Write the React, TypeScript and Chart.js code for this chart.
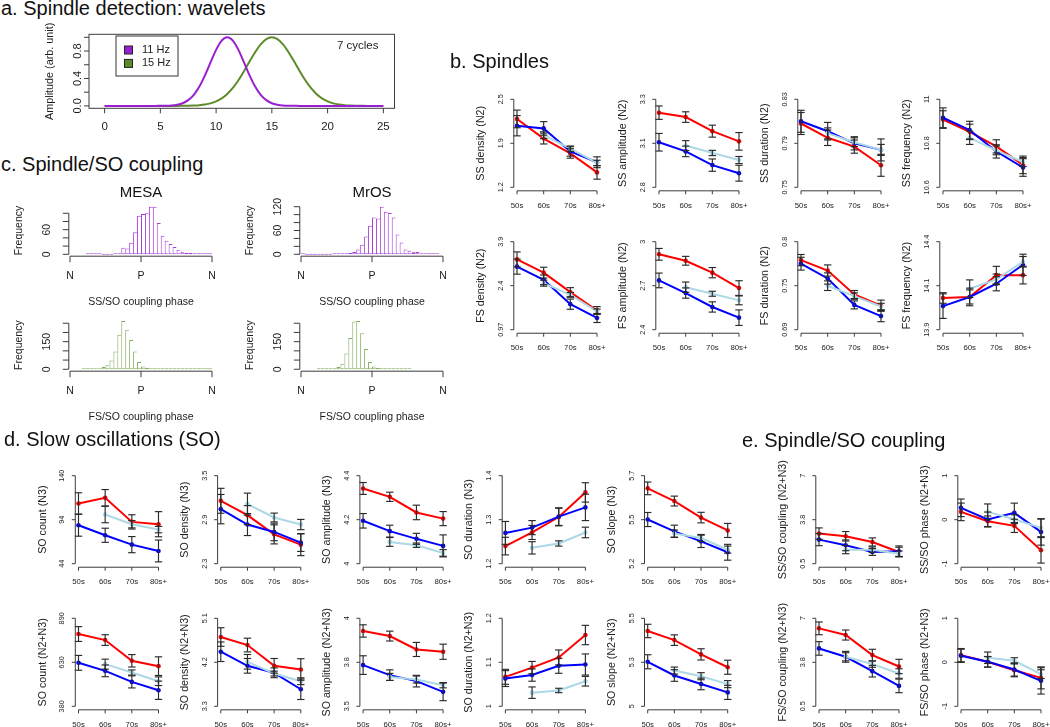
import React, { useEffect, useRef } from 'react';
import { Chart, registerables } from 'chart.js';

Chart.register(...registerables);

// ---------------- data ----------------
const ageGroups = ['50s', '60s', '70s', '80s+'];

// a. wavelets
const waveletLabels = ['11 Hz', '15 Hz'];
const waveFreq = [0, 0.5, 1, 1.5, 2, 2.5, 3, 3.5, 4, 4.5, 5, 5.5, 6, 6.5, 7, 7.5, 8, 8.5, 9, 9.5, 10, 10.5, 11, 11.5, 12, 12.5, 13, 13.5, 14, 14.5, 15, 15.5, 16, 16.5, 17, 17.5, 18, 18.5, 19, 19.5, 20, 20.5, 21, 21.5, 22, 22.5, 23, 23.5, 24, 24.5, 25];
const wave11 = [0, 0, 0, 0, 0, 0, 0, 0, 0, 0, 0.001, 0.002, 0.006, 0.017, 0.039, 0.084, 0.162, 0.282, 0.445, 0.634, 0.817, 0.951, 1, 0.951, 0.817, 0.634, 0.445, 0.282, 0.162, 0.084, 0.039, 0.017, 0.006, 0.002, 0.001, 0, 0, 0, 0, 0, 0, 0, 0, 0, 0, 0, 0, 0, 0, 0, 0];
const wave15 = [0, 0, 0, 0, 0, 0, 0, 0, 0, 0, 0, 0, 0, 0, 0.001, 0.002, 0.005, 0.01, 0.02, 0.037, 0.066, 0.11, 0.175, 0.263, 0.375, 0.506, 0.647, 0.783, 0.897, 0.973, 1, 0.973, 0.897, 0.783, 0.647, 0.506, 0.375, 0.263, 0.175, 0.11, 0.066, 0.037, 0.02, 0.01, 0.005, 0.002, 0.001, 0, 0, 0, 0];
const waveXTicks = [0, 5, 10, 15, 20, 25];
const waveYTicks = [0, 0.2, 0.4, 0.6, 0.8, 1];
const waveYLabels = ['0.0', null, '0.4', null, '0.8', null];

// c. coupling phase histograms (10 degree bins, null = outside data range)
const phaseBins = [-175, -165, -155, -145, -135, -125, -115, -105, -95, -85, -75, -65, -55, -45, -35, -25, -15, -5, 5, 15, 25, 35, 45, 55, 65, 75, 85, 95, 105, 115, 125, 135, 145, 155, 165, 175];
const phaseTicks = [-180, 0, 180];
const phaseLabels = ['N', 'P', 'N'];
const mesaSS = [null, null, null, null, 1, 1, 2, 1, 0, 0, 0, 1, 2, 16, 14, 28, 54, 94, 98, 100, 116, 116, 76, 45, 33, 25, 18, 11, 6, 4, 3, 1, 2, 1, 1, 1];
const mrosSS = [1, 0, 0, 0, 0, 0, 0, 0, 1, 2, 2, 1, 3, 6, 12, 24, 45, 72, 93, 90, 120, 107, 104, 93, 50, 30, 12, 9, 5, 6, 2, 2, 1, 2, 1, null];
const mesaFS = [null, null, null, 1, 1, 2, 3, 6, 12, 22, 48, 96, 187, 262, 214, 159, 96, 40, 15, 8, 4, 2, 2, 1, 1, 1, 1, 1, 1, 2, 1, 1, 1, 1, 1, 1];
const mrosFS = [null, null, null, null, 1, 1, 1, 2, 5, 12, 30, 85, 170, 260, 262, 195, 110, 40, 15, 8, 4, 3, 2, 1, 1, 1, 1, 1, null, null, null, null, null, null, null, null];
const mesaSSTicks = [0, 20, 40, 60, 80, 100];
const mesaSSLabels = ['0', null, null, '60', null, null];
const mrosSSTicks = [0, 20, 40, 60, 80, 100, 120];
const mrosSSLabels = ['0', null, null, '60', null, null, '120'];
const fsHistTicks = [0, 50, 100, 150, 200, 250];
const fsHistLabels = ['0', null, null, '150', null, null];

// b. spindles: [red, blue, light blue] per age group
const ssDensityMean = [[2.21, 1.92, 1.70, 1.42], [2.11, 2.07, 1.73, 1.57], [null, 1.97, 1.77, 1.56]];
const ssDensitySE = [[0.13, 0.08, 0.07, 0.10], [0.15, 0.10, 0.07, 0.08], [null, 0.05, 0.04, 0.04]];
const ssDensityTicks = ['1.2', '1.9', '2.5'];
const ssAmplitudeMean = [[3.224, 3.199, 3.119, 3.061], [3.056, 3.004, 2.926, 2.880], [null, 3.037, 2.995, 2.955]];
const ssAmplitudeSE = [[0.038, 0.030, 0.034, 0.050], [0.050, 0.030, 0.035, 0.045], [null, 0.028, 0.015, 0.020]];
const ssAmplitudeTicks = ['2.8', '3.1', '3.3'];
const ssDurationMean = [[0.808, 0.795, 0.787, 0.770], [0.810, 0.801, 0.790, 0.784], [null, 0.799, 0.791, 0.784]];
const ssDurationSE = [[0.010, 0.007, 0.006, 0.010], [0.010, 0.008, 0.006, 0.010], [null, 0.005, 0.004, 0.005]];
const ssDurationTicks = ['0.75', '0.79', '0.83'];
const ssFrequencyMean = [[10.908, 10.852, 10.786, 10.702], [10.916, 10.860, 10.763, 10.690], [null, 10.825, 10.768, 10.715]];
const ssFrequencySE = [[0.040, 0.035, 0.030, 0.040], [0.045, 0.040, 0.030, 0.040], [null, 0.030, 0.020, 0.020]];
const ssFrequencyTicks = ['10.6', '10.8', '11'];
const fsDensityMean = [[3.31, 2.87, 2.22, 1.61], [3.07, 2.63, 1.82, 1.36], [null, 2.52, 2.13, 1.58]];
const fsDensitySE = [[0.25, 0.18, 0.15, 0.13], [0.25, 0.16, 0.17, 0.15], [null, 0.10, 0.08, 0.08]];
const fsDensityTicks = ['0.97', '2.4', '3.9'];
const fsAmplitudeMean = [[2.914, 2.870, 2.789, 2.684], [2.736, 2.650, 2.555, 2.482], [null, 2.690, 2.645, 2.600]];
const fsAmplitudeSE = [[0.040, 0.030, 0.035, 0.050], [0.050, 0.035, 0.035, 0.053], [null, 0.035, 0.017, 0.030]];
const fsAmplitudeTicks = ['2.4', '2.7', '3'];
const fsDurationMean = [[0.777, 0.764, 0.734, 0.720], [0.7725, 0.754, 0.721, 0.707], [null, 0.745, 0.732, 0.719]];
const fsDurationSE = [[0.007, 0.007, 0.005, 0.007], [0.008, 0.007, 0.005, 0.007], [null, 0.006, 0.004, 0.004]];
const fsDurationTicks = ['0.69', '0.75', '0.8'];
const fsFrequencyMean = [[14.080, 14.086, 14.210, 14.210], [14.034, 14.086, 14.161, 14.269], [null, 14.133, 14.186, 14.286]];
const fsFrequencySE = [[0.030, 0.050, 0.050, 0.050], [0.070, 0.040, 0.040, 0.060], [null, 0.050, 0.030, 0.030]];
const fsFrequencyTicks = ['13.9', '14.1', '14.4'];

// d. slow oscillations
const soCountN3Mean = [[109.7, 115.9, 89.6, 87.1], [86.0, 75.0, 64.8, 57.9], [null, 97.7, 87.1, 81.2]];
const soCountN3SE = [[11.7, 9.0, 7.8, 13.7], [12.0, 7.7, 8.8, 11.9], [null, 9.0, 4.0, 3.5]];
const soCountN3Ticks = ['44', '94', '140'];
const soDensityN3Mean = [[3.158, 2.962, 2.700, 2.560], [3.044, 2.834, 2.733, 2.587], [null, 3.112, 2.930, 2.834]];
const soDensityN3SE = [[0.17, 0.13, 0.13, 0.15], [0.20, 0.15, 0.12, 0.12], [null, 0.15, 0.06, 0.07]];
const soDensityN3Ticks = ['2.3', '2.9', '3.5'];
const soAmplitudeN3Mean = [[4.342, 4.304, 4.233, 4.205], [4.195, 4.148, 4.113, 4.081], [null, 4.099, 4.084, 4.049]];
const soAmplitudeN3SE = [[0.027, 0.021, 0.033, 0.032], [0.033, 0.027, 0.025, 0.050], [null, 0.020, 0.010, 0.015]];
const soAmplitudeN3Ticks = ['4', '4.2', '4.4'];
const soDurationN3Mean = [[1.240, 1.271, 1.306, 1.362], [1.270, 1.282, 1.307, 1.328], [null, 1.236, 1.246, 1.271]];
const soDurationN3SE = [[0.020, 0.016, 0.020, 0.022], [0.026, 0.016, 0.020, 0.030], [null, 0.014, 0.006, 0.012]];
const soDurationN3Ticks = ['1.2', '1.3', '1.4'];
const soSlopeN3Mean = [[5.628, 5.556, 5.462, 5.389], [5.451, 5.384, 5.327, 5.265], [null, 5.371, 5.346, 5.280]];
const soSlopeN3SE = [[0.036, 0.028, 0.030, 0.040], [0.040, 0.035, 0.035, 0.045], [null, 0.020, 0.020, 0.020]];
const soSlopeN3Ticks = ['5.2', '5.5', '5.7'];
const soCountN23Mean = [[798.8, 763.9, 643.7, 612.7], [632.0, 585.5, 521.5, 473.0], [null, 624.3, 575.8, 525.4]];
const soCountN23SE = [[43, 31, 36, 54], [43, 34, 35, 53], [null, 29, 15, 25]];
const soCountN23Ticks = ['380', '630', '890'];
const soDensityN23Mean = [[4.717, 4.553, 4.128, 4.053], [4.416, 4.128, 3.985, 3.649], [null, 4.210, 3.970, 3.813]];
const soDensityN23SE = [[0.19, 0.14, 0.15, 0.22], [0.20, 0.15, 0.10, 0.21], [null, 0.15, 0.05, 0.07]];
const soDensityN23Ticks = ['3.3', '4.2', '5.1'];
const soAmplitudeN23Mean = [[3.928, 3.899, 3.823, 3.810], [3.734, 3.677, 3.643, 3.582], [null, 3.667, 3.652, 3.620]];
const soAmplitudeN23SE = [[0.035, 0.028, 0.040, 0.043], [0.053, 0.030, 0.033, 0.050], [null, 0.020, 0.020, 0.015]];
const soAmplitudeN23Ticks = ['3.5', '3.8', '4'];
const soDurationN23Mean = [[1.067, 1.088, 1.111, 1.162], [1.063, 1.071, 1.092, 1.095], [null, 1.031, 1.036, 1.057]];
const soDurationN23SE = [[0.017, 0.014, 0.017, 0.022], [0.018, 0.014, 0.017, 0.024], [null, 0.013, 0.005, 0.011]];
const soDurationN23Ticks = ['1', '1.1', '1.2'];
const soSlopeN23Mean = [[5.428, 5.376, 5.295, 5.222], [5.253, 5.175, 5.127, 5.079], [null, 5.203, 5.171, 5.126]];
const soSlopeN23SE = [[0.038, 0.030, 0.032, 0.040], [0.040, 0.033, 0.033, 0.040], [null, 0.020, 0.020, 0.020]];
const soSlopeN23Ticks = ['5', '5.3', '5.5'];

// e. spindle/SO coupling
const ssCouplingMean = [[2.724, 2.526, 2.106, 1.365], [2.279, 1.859, 1.365, 1.414], [null, 1.538, 1.538, 1.241]];
const ssCouplingSE = [[0.42, 0.35, 0.30, 0.35], [0.45, 0.40, 0.25, 0.40], [null, 0.30, 0.20, 0.20]];
const ssCouplingTicks = ['0.5', '3.8', '7'];
const ssPhaseMean = [[0.178, -0.035, -0.140, -0.696], [0.270, 0.004, 0.156, -0.278], [null, 0.178, 0.011, -0.186]];
const ssPhaseSE = [[0.20, 0.12, 0.15, 0.29], [0.20, 0.17, 0.22, 0.30], [null, 0.18, 0.10, 0.20]];
const ssPhaseTicks = ['-1', '0', '1'];
const fsCouplingMean = [[6.258, 5.764, 4.281, 3.441], [4.775, 4.157, 3.095, 2.007], [null, 4.157, 3.614, 2.922]];
const fsCouplingSE = [[0.47, 0.37, 0.43, 0.53], [0.50, 0.40, 0.43, 0.50], [null, 0.30, 0.23, 0.35]];
const fsCouplingTicks = ['0.5', '3.8', '7'];
const fsPhaseMean = [[0.163, 0.011, -0.179, -0.354], [0.148, 0.011, -0.163, -0.422], [null, 0.103, 0.034, -0.270]];
const fsPhaseSE = [[0.15, 0.12, 0.15, 0.25], [0.15, 0.12, 0.15, 0.30], [null, 0.13, 0.07, 0.10]];
const fsPhaseTicks = ['-1', '0', '1'];

// ---------------- styles ----------------
const FONT = '"Liberation Sans", Arimo, Arial, Helvetica, sans-serif';
const RED = '#ff0000';
const BLUE = '#0000ff';
const LIGHT = '#add8e6';
const PURPLE = '#9a1fd0';
const GREEN = '#5e8b2a';
const HIST_PURPLE = '#a63ed8';
const HIST_GREEN = '#82ab5a';
const AXIS = '#3c3c3c';
const TEXT = '#1c1c1c';
const ERR = '#2a2a2a';

type AxesOpts = {
  box?: boolean;
  yTicks: number[]; yLabels: (string | null)[]; yShift: number; yTickLen: number; yLabelGap: number; yFont: number;
  yTitle: string; yTitleGap: number; yTitleFont: number;
  xTicks: number[]; xLabels: (string | null)[]; xShift: number; xTickLen: number; xLabelGap: number; xFont: number;
  xTitle?: string; xTitleGap?: number; xTitleFont?: number;
  lineWidth: number;
};

function axesPlugin(o: AxesOpts) {
  return {
    id: 'rAxes',
    afterDraw(chart: any) {
      const ctx = chart.ctx;
      const a = chart.chartArea;
      const xs = chart.scales.x;
      const ys = chart.scales.y;
      ctx.save();
      ctx.strokeStyle = AXIS;
      ctx.fillStyle = TEXT;
      ctx.lineWidth = o.lineWidth;
      const seg = (x1: number, y1: number, x2: number, y2: number) => {
        ctx.beginPath(); ctx.moveTo(x1, y1); ctx.lineTo(x2, y2); ctx.stroke();
      };
      const yx = a.left + o.yShift;
      const xy = a.bottom + o.xShift;
      if (o.box) {
        ctx.strokeRect(a.left, a.top, a.right - a.left, a.bottom - a.top);
      } else {
        seg(yx, ys.getPixelForValue(o.yTicks[0]), yx, ys.getPixelForValue(o.yTicks[o.yTicks.length - 1]));
        seg(xs.getPixelForValue(o.xTicks[0]), xy, xs.getPixelForValue(o.xTicks[o.xTicks.length - 1]), xy);
      }
      ctx.textAlign = 'center';
      ctx.textBaseline = 'middle';
      ctx.font = `${o.yFont}px ${FONT}`;
      o.yTicks.forEach((v, i) => {
        const py = ys.getPixelForValue(v);
        seg(yx, py, yx - o.yTickLen, py);
        const lab = o.yLabels[i];
        if (lab != null) {
          ctx.save(); ctx.translate(yx - o.yLabelGap, py); ctx.rotate(-Math.PI / 2); ctx.fillText(lab, 0, 0); ctx.restore();
        }
      });
      ctx.font = `${o.yTitleFont}px ${FONT}`;
      ctx.save(); ctx.translate(yx - o.yTitleGap, (a.top + a.bottom) / 2); ctx.rotate(-Math.PI / 2); ctx.fillText(o.yTitle, 0, 0); ctx.restore();
      ctx.font = `${o.xFont}px ${FONT}`;
      o.xTicks.forEach((v, i) => {
        const px = xs.getPixelForValue(v);
        seg(px, xy, px, xy + o.xTickLen);
        const lab = o.xLabels[i];
        if (lab != null) ctx.fillText(lab, px, xy + o.xLabelGap);
      });
      if (o.xTitle) {
        ctx.font = `${o.xTitleFont}px ${FONT}`;
        ctx.fillText(o.xTitle, (a.left + a.right) / 2, xy + (o.xTitleGap || 0));
      }
      ctx.restore();
    },
  };
}

const errorBarPlugin = {
  id: 'errBars',
  afterDatasetsDraw(chart: any) {
    const ctx = chart.ctx;
    const xs = chart.scales.x;
    const ys = chart.scales.y;
    ctx.save();
    ctx.strokeStyle = ERR;
    ctx.lineWidth = 1.15;
    const seg = (x1: number, y1: number, x2: number, y2: number) => {
      ctx.beginPath(); ctx.moveTo(x1, y1); ctx.lineTo(x2, y2); ctx.stroke();
    };
    chart.data.datasets.forEach((ds: any) => {
      const errs = ds.errors;
      if (!errs) return;
      ds.data.forEach((pt: any, j: number) => {
        const e = errs[j];
        if (pt.y == null || e == null) return;
        const px = xs.getPixelForValue(pt.x);
        const y1 = ys.getPixelForValue(pt.y + e);
        const y2 = ys.getPixelForValue(pt.y - e);
        seg(px, y1, px, y2);
        seg(px - 3.7, y1, px + 3.7, y1);
        seg(px - 3.7, y2, px + 3.7, y2);
      });
    });
    ctx.restore();
  },
};

// ---------------- components ----------------
function useChart(ref: React.RefObject<HTMLCanvasElement>, make: () => any) {
  useEffect(() => {
    const chart = new Chart(ref.current as HTMLCanvasElement, make());
    return () => chart.destroy();
  }, []);
}

const baseOptions = {
  responsive: false,
  maintainAspectRatio: false,
  animation: false,
  events: [],
  devicePixelRatio: 1,
};

type LineSpec = { title: string; ticks: string[]; mean: (number | null)[][]; se: (number | null)[][]; x50: number; top: number };
const PANEL_H = 88;

function LinePanel({ s }: { s: LineSpec }) {
  const ref = useRef<HTMLCanvasElement>(null);
  const L = Math.round(s.x50 - 52);
  const T = Math.round(s.top - 28);
  const W = 142;
  const H = 160;
  useChart(ref, () => {
    const lo = parseFloat(s.ticks[0]);
    const hi = parseFloat(s.ticks[2]);
    const r = hi - lo;
    const aL = s.x50 - 3.2;
    const aR = s.x50 + 83.2;
    const aT = s.top - 0.04 * PANEL_H;
    const aB = s.top + 1.04 * PANEL_H;
    const colors = [RED, BLUE, LIGHT];
    const datasets = [2, 1, 0].map((k) => ({
      data: s.mean[k].map((v, i) => ({ x: i, y: v })),
      errors: s.se[k],
      borderColor: colors[k],
      backgroundColor: colors[k],
      borderWidth: 2,
      pointRadius: 2.3,
      pointBorderWidth: 0,
      pointBackgroundColor: colors[k],
      tension: 0,
    }));
    return {
      type: 'line',
      data: { datasets },
      options: {
        ...baseOptions,
        layout: { padding: { left: aL - L, right: L + W - aR, top: aT - T, bottom: T + H - aB } },
        plugins: { legend: { display: false }, tooltip: { enabled: false } },
        scales: {
          x: { type: 'linear', display: false, min: -0.12, max: 3.12 },
          y: { type: 'linear', display: false, min: lo - 0.04 * r, max: hi + 0.04 * r },
        },
      },
      plugins: [
        errorBarPlugin,
        axesPlugin({
          yTicks: [lo, (lo + hi) / 2, hi], yLabels: s.ticks, yShift: 0, yTickLen: 3.5, yLabelGap: 13, yFont: 7.3,
          yTitle: s.title, yTitleGap: 32.7, yTitleFont: 10.7,
          xTicks: [0, 1, 2, 3], xLabels: ageGroups, xShift: 0, xTickLen: 3.5, xLabelGap: 15, xFont: 7.8,
          lineWidth: 1,
        }),
      ],
    };
  });
  return <canvas ref={ref} width={W} height={H} style={{ position: 'absolute', left: L, top: T, width: W, height: H }} />;
}

type HistSpec = {
  counts: (number | null)[]; color: string; left: number; areaTop: number; areaBottom: number;
  yTicks: number[]; yLabels: (string | null)[]; xTitle: string;
};

function HistPanel({ s }: { s: HistSpec }) {
  const ref = useRef<HTMLCanvasElement>(null);
  const L = s.left - 70;
  const T = Math.round(s.areaTop - 22);
  const W = 230;
  const H = 135;
  useChart(ref, () => {
    const pts = s.counts
      .map((c, i) => (c == null ? null : { x: phaseBins[i], y: c }))
      .filter((p) => p != null) as { x: number; y: number }[];
    const M = Math.max(...pts.map((p) => p.y));
    const n = pts.length;
    return {
      type: 'bar',
      data: {
        datasets: [{
          data: pts,
          backgroundColor: '#ffffff',
          borderColor: s.color,
          borderWidth: (c: any) => ({ top: 1, left: 1, bottom: 1, right: c.dataIndex === n - 1 ? 1 : 0 }),
          borderSkipped: false,
          categoryPercentage: 1,
          barPercentage: 1,
          minBarLength: 1,
          inflateAmount: 0,
        }],
      },
      options: {
        ...baseOptions,
        layout: { padding: { left: 70, right: W - 70 - 142, top: s.areaTop - T, bottom: T + H - s.areaBottom } },
        plugins: { legend: { display: false }, tooltip: { enabled: false } },
        scales: {
          x: { type: 'linear', display: false, min: -180, max: 180, offset: false },
          y: { type: 'linear', display: false, min: -0.04 * M, max: 1.04 * M },
        },
      },
      plugins: [
        axesPlugin({
          yTicks: s.yTicks, yLabels: s.yLabels, yShift: -1.2, yTickLen: 6, yLabelGap: 21.5, yFont: 10.5,
          yTitle: 'Frequency', yTitleGap: 49.5, yTitleFont: 10.5,
          xTicks: phaseTicks, xLabels: phaseLabels, xShift: 0, xTickLen: 6, xLabelGap: 20, xFont: 10.5,
          xTitle: s.xTitle, xTitleGap: 46, xTitleFont: 10.5,
          lineWidth: 1,
        }),
      ],
    };
  });
  return <canvas ref={ref} width={W} height={H} style={{ position: 'absolute', left: L, top: T, width: W, height: H }} />;
}

function WaveletPanel() {
  const ref = useRef<HTMLCanvasElement>(null);
  const L = 0, T = 20, W = 440, H = 120;
  useChart(ref, () => {
    const legendPlugin = {
      id: 'waveLegend',
      afterDraw(chart: any) {
        const ctx = chart.ctx;
        const a = chart.chartArea;
        ctx.save();
        const lx = a.left + 27, ly = a.top + 1.7, lw = 62, lh = 40;
        ctx.strokeStyle = '#333'; ctx.lineWidth = 1;
        ctx.strokeRect(lx, ly, lw, lh);
        ctx.font = `11px ${FONT}`;
        ctx.textBaseline = 'middle';
        ctx.textAlign = 'left';
        chart.data.datasets.forEach((ds: any, i: number) => {
          const cy = ly + 14 + i * 13.4;
          ctx.fillStyle = ds.borderColor;
          ctx.fillRect(lx + 8.5, cy - 4, 8, 8);
          ctx.strokeStyle = '#222';
          ctx.strokeRect(lx + 8.5, cy - 4, 8, 8);
          ctx.fillStyle = TEXT;
          ctx.fillText(ds.label, lx + 26, cy);
        });
        ctx.textAlign = 'right';
        ctx.font = `11.5px ${FONT}`;
        ctx.fillText('7 cycles', a.right - 16, a.top + 11.7);
        ctx.restore();
      },
    };
    return {
      type: 'line',
      data: {
        datasets: [
          { label: waveletLabels[0], data: waveFreq.map((f, i) => ({ x: f, y: wave11[i] })), borderColor: PURPLE, borderWidth: 2, pointRadius: 0, cubicInterpolationMode: 'monotone' },
          { label: waveletLabels[1], data: waveFreq.map((f, i) => ({ x: f, y: wave15[i] })), borderColor: GREEN, borderWidth: 2, pointRadius: 0, cubicInterpolationMode: 'monotone' },
        ],
      },
      options: {
        ...baseOptions,
        layout: { padding: { left: 89, right: W - 394.5, top: 34.3 - T, bottom: T + H - 108.3 } },
        plugins: { legend: { display: false }, tooltip: { enabled: false } },
        scales: {
          x: { type: 'linear', display: false, min: -1.4, max: 26 },
          y: { type: 'linear', display: false, min: -0.035, max: 1.044 },
        },
      },
      plugins: [
        axesPlugin({
          box: true,
          yTicks: waveYTicks, yLabels: waveYLabels, yShift: 0, yTickLen: 5, yLabelGap: 11.5, yFont: 11,
          yTitle: 'Amplitude (arb. unit)', yTitleGap: 39, yTitleFont: 10.8,
          xTicks: waveXTicks, xLabels: waveXTicks.map(String), xShift: 0, xTickLen: 5, xLabelGap: 18.5, xFont: 11.5,
          lineWidth: 1,
        }),
        legendPlugin,
      ],
    };
  });
  return <canvas ref={ref} width={W} height={H} style={{ position: 'absolute', left: L, top: T, width: W, height: H }} />;
}

// ---------------- layout ----------------
const bX = [517, 659, 801, 943];
const bTop = [99.3, 241.7];
const dX = [78.5, 220.8, 363.1, 505.4, 647.7];
const eX = [819, 961];
const deTop = [475.7, 618.3];

const linePanels: LineSpec[] = [
  { title: 'SS density (N2)', ticks: ssDensityTicks, mean: ssDensityMean, se: ssDensitySE, x50: bX[0], top: bTop[0] },
  { title: 'SS amplitude (N2)', ticks: ssAmplitudeTicks, mean: ssAmplitudeMean, se: ssAmplitudeSE, x50: bX[1], top: bTop[0] },
  { title: 'SS duration (N2)', ticks: ssDurationTicks, mean: ssDurationMean, se: ssDurationSE, x50: bX[2], top: bTop[0] },
  { title: 'SS frequency (N2)', ticks: ssFrequencyTicks, mean: ssFrequencyMean, se: ssFrequencySE, x50: bX[3], top: bTop[0] },
  { title: 'FS density (N2)', ticks: fsDensityTicks, mean: fsDensityMean, se: fsDensitySE, x50: bX[0], top: bTop[1] },
  { title: 'FS amplitude (N2)', ticks: fsAmplitudeTicks, mean: fsAmplitudeMean, se: fsAmplitudeSE, x50: bX[1], top: bTop[1] },
  { title: 'FS duration (N2)', ticks: fsDurationTicks, mean: fsDurationMean, se: fsDurationSE, x50: bX[2], top: bTop[1] },
  { title: 'FS frequency (N2)', ticks: fsFrequencyTicks, mean: fsFrequencyMean, se: fsFrequencySE, x50: bX[3], top: bTop[1] },
  { title: 'SO count (N3)', ticks: soCountN3Ticks, mean: soCountN3Mean, se: soCountN3SE, x50: dX[0], top: deTop[0] },
  { title: 'SO density (N3)', ticks: soDensityN3Ticks, mean: soDensityN3Mean, se: soDensityN3SE, x50: dX[1], top: deTop[0] },
  { title: 'SO amplitude (N3)', ticks: soAmplitudeN3Ticks, mean: soAmplitudeN3Mean, se: soAmplitudeN3SE, x50: dX[2], top: deTop[0] },
  { title: 'SO duration (N3)', ticks: soDurationN3Ticks, mean: soDurationN3Mean, se: soDurationN3SE, x50: dX[3], top: deTop[0] },
  { title: 'SO slope (N3)', ticks: soSlopeN3Ticks, mean: soSlopeN3Mean, se: soSlopeN3SE, x50: dX[4], top: deTop[0] },
  { title: 'SO count (N2+N3)', ticks: soCountN23Ticks, mean: soCountN23Mean, se: soCountN23SE, x50: dX[0], top: deTop[1] },
  { title: 'SO density (N2+N3)', ticks: soDensityN23Ticks, mean: soDensityN23Mean, se: soDensityN23SE, x50: dX[1], top: deTop[1] },
  { title: 'SO amplitude (N2+N3)', ticks: soAmplitudeN23Ticks, mean: soAmplitudeN23Mean, se: soAmplitudeN23SE, x50: dX[2], top: deTop[1] },
  { title: 'SO duration (N2+N3)', ticks: soDurationN23Ticks, mean: soDurationN23Mean, se: soDurationN23SE, x50: dX[3], top: deTop[1] },
  { title: 'SO slope (N2+N3)', ticks: soSlopeN23Ticks, mean: soSlopeN23Mean, se: soSlopeN23SE, x50: dX[4], top: deTop[1] },
  { title: 'SS/SO coupling (N2+N3)', ticks: ssCouplingTicks, mean: ssCouplingMean, se: ssCouplingSE, x50: eX[0], top: deTop[0] },
  { title: 'SS/SO phase (N2+N3)', ticks: ssPhaseTicks, mean: ssPhaseMean, se: ssPhaseSE, x50: eX[1], top: deTop[0] },
  { title: 'FS/SO coupling (N2+N3)', ticks: fsCouplingTicks, mean: fsCouplingMean, se: fsCouplingSE, x50: eX[0], top: deTop[1] },
  { title: 'FS/SO phase (N2+N3)', ticks: fsPhaseTicks, mean: fsPhaseMean, se: fsPhaseSE, x50: eX[1], top: deTop[1] },
];

const histPanels: HistSpec[] = [
  { counts: mesaSS, color: HIST_PURPLE, left: 70, areaTop: 204.8, areaBottom: 256.2, yTicks: mesaSSTicks, yLabels: mesaSSLabels, xTitle: 'SS/SO coupling phase' },
  { counts: mrosSS, color: HIST_PURPLE, left: 301, areaTop: 204.8, areaBottom: 256.2, yTicks: mrosSSTicks, yLabels: mrosSSLabels, xTitle: 'SS/SO coupling phase' },
  { counts: mesaFS, color: HIST_GREEN, left: 70, areaTop: 319.1, areaBottom: 371.2, yTicks: fsHistTicks, yLabels: fsHistLabels, xTitle: 'FS/SO coupling phase' },
  { counts: mrosFS, color: HIST_GREEN, left: 301, areaTop: 319.1, areaBottom: 371.2, yTicks: fsHistTicks, yLabels: fsHistLabels, xTitle: 'FS/SO coupling phase' },
];

const titles = [
  { text: 'a. Spindle detection: wavelets', left: 1, top: -2 },
  { text: 'b. Spindles', left: 450, top: 51 },
  { text: 'c. Spindle/SO coupling', left: 1, top: 154 },
  { text: 'd. Slow oscillations (SO)', left: 4, top: 429 },
  { text: 'e. Spindle/SO coupling', left: 742, top: 430 },
];

const cohortTitles = [
  { text: 'MESA', center: 141 },
  { text: 'MrOS', center: 372 },
];

export default function App() {
  return (
    <div style={{ position: 'absolute', left: 0, top: 0, width: 1050, height: 727, background: '#ffffff', overflow: 'hidden', fontFamily: FONT }}>
      <WaveletPanel />
      {histPanels.map((h, i) => <HistPanel key={'h' + i} s={h} />)}
      {linePanels.map((p, i) => <LinePanel key={'l' + i} s={p} />)}
      {titles.map((t) => (
        <div key={t.text} style={{ position: 'absolute', left: t.left, top: t.top, fontSize: 20, lineHeight: '20px', color: '#111', whiteSpace: 'nowrap' }}>{t.text}</div>
      ))}
      {cohortTitles.map((t) => (
        <div key={t.text} style={{ position: 'absolute', left: t.center - 60, width: 120, top: 184, textAlign: 'center', fontSize: 15, lineHeight: '15px', color: '#111' }}>{t.text}</div>
      ))}
    </div>
  );
}
